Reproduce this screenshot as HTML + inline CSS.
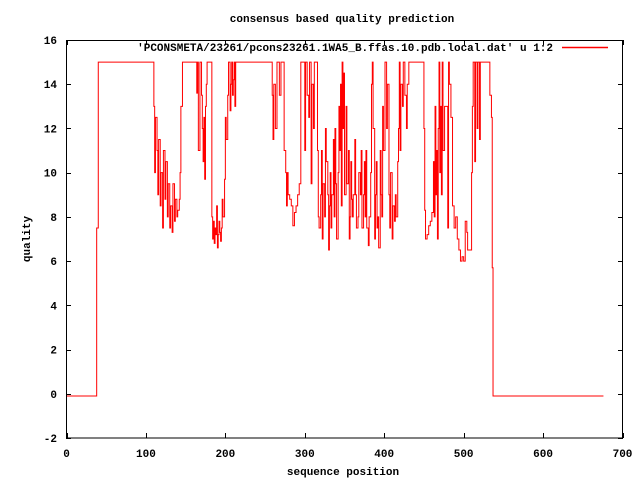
<!DOCTYPE html>
<html><head><meta charset="utf-8"><style>
body{margin:0;background:#fff}
svg text{font-family:"Liberation Mono",monospace;font-size:11px;font-weight:bold;fill:#000}
</style></head><body>
<svg id="chart" width="640" height="480" xmlns="http://www.w3.org/2000/svg">
<rect width="640" height="480" fill="#fff"/>
<text x="342" y="22" text-anchor="middle">consensus based quality prediction</text>
<text x="343" y="475" text-anchor="middle">sequence position</text>
<text x="30" y="239" text-anchor="middle" transform="rotate(-90 30 239)">quality</text>
<g id="ticks"></g>
<path id="series" fill="none" stroke="#f00" stroke-width="1"/>
<rect x="66.5" y="40.5" width="556" height="397.5" fill="none" stroke="#000" stroke-width="1"/>
<text x="553" y="51" text-anchor="end">'PCONSMETA/23261/pcons23261.1WA5_B.ffas.10.pdb.local.dat' u 1:2</text>
<line x1="562" y1="47.5" x2="608" y2="47.5" stroke="#ff0000" stroke-width="1.5"/>
</svg>
<script>
const xTicks=[0,100,200,300,400,500,600,700];
const yTicks=[-2,0,2,4,6,8,10,12,14,16];
const positions=[0,38,40,110,111,112,114,115,116,118,119,121,122,124,125,127,128,130,131,133,134,136,137,139,140,142,143,144,146,
164,165,166,168,170,171,172,173,174,175,176,177,183,184,185,186,187,188,189,190,191,192,193,194,195,196,197,199,200,201,203,204,206,207,208,209,210,211,212,213,215,
259,260,261,263,265,268,270,274,276,277,278,279,281,283,285,287,289,291,293,295,
300,301,303,305,306,308,309,311,312,316,317,318,320,321,322,323,325,326,327,329,330,331,332,333,334,336,337,338,339,340,342,343,344,345,346,347,348,349,350,352,353,355,356,357,358,359,360,361,363,364,365,367,368,370,371,372,374,375,376,377,378,380,381,383,384,385,386,388,389,390,391,392,393,395,396,397,398,399,401,403,404,406,407,408,410,411,413,414,415,417,418,419,420,421,423,424,426,428,429,431,
450,451,452,454,456,458,460,462,463,464,465,466,467,468,469,470,471,472,473,474,476,480,481,482,484,486,488,490,492,494,496,498,500,502,504,505,510,511,512,514,515,517,518,520,521,533,535,536,537,676];
const quality=[-0.1,7.5,15,13,10,12.5,11,9,11.5,8.5,10,7.5,11,8.8,10.5,8,9.5,7.5,8.5,7.3,9.5,7.8,8.8,8,8.3,8.8,10,13,15,
13.6,15,11,15,13.5,12,10.5,12.5,9.7,13,14,15,8,7,7.8,6.8,7.5,7.2,8.5,6.6,7.2,7.8,7.3,6.9,7.5,8.8,8,9.7,12.5,11.5,13.5,15,12.8,14,15,13.5,14.2,15,13,15,15,
13.5,11.5,14,12,15,13.5,15,11,10,8.5,10,9,8.8,8.5,7.6,8.2,8.5,9,9.5,15,
11,15,13.5,12.5,15,9.5,14,12,15,11,8,7.5,9,11,7,9.5,8,12,10.5,9,6.5,8.5,10,7.5,9,11.5,8,12,9.5,7,10,13,11,14,8.5,15,12,14.5,9,13,9.5,11,7,8,10.5,8.8,8,9,11.5,9,7.5,8,10,9,11,7.5,9,10.5,8,11,7.5,6.7,8,10,14,15,12,7,9,10.5,7.5,8,6.6,11,9,8,13,11,15,12,14,9,7.5,10,7,8.5,7.8,9,8,10.5,12,15,11,14,13,15,13.5,12,14,15,
12,8.3,7,7.2,7.6,7.8,8.2,10.5,8,13,9,11,7,12,15,10,13,9,15,11,13,7.5,15,14,12.5,8.5,7.5,8,7,6.5,6,6.2,6,7.8,7.3,6.5,10,13,15,10.5,15,12,15,11.5,15,13.5,12.5,5.7,-0.1,-0.1];
const X0=66.5,XW=556,Y0=438,YH=398,XMAX=700,YMIN=-2,YMAX=16;
function sx(v){return X0+v/XMAX*XW;}
function sy(v){return Y0-(v-YMIN)/(YMAX-YMIN)*YH;}
const NS='http://www.w3.org/2000/svg';
const tg=document.getElementById('ticks');
xTicks.forEach(t=>{
  const x=Math.round(sx(t))+0.5;
  const l=document.createElementNS(NS,'path');
  l.setAttribute('d',`M${x} 438V433M${x} 40V45`);l.setAttribute('stroke','#000');
  
  
  tg.appendChild(l);
  const tx=document.createElementNS(NS,'text');
  tx.setAttribute('x',sx(t));tx.setAttribute('y',457);tx.setAttribute('text-anchor','middle');tx.textContent=t;
  
  
  tg.appendChild(tx);
});
yTicks.forEach(t=>{
  const y=Math.round(sy(t))+0.5;
  const l=document.createElementNS(NS,'path');
  l.setAttribute('d',`M66 ${y}H71M623 ${y}H618`);l.setAttribute('stroke','#000');
  
  
  tg.appendChild(l);
  const tx=document.createElementNS(NS,'text');
  tx.setAttribute('x',57);tx.setAttribute('y',sy(t)+4);tx.setAttribute('text-anchor','end');tx.textContent=t;
  
  
  tg.appendChild(tx);
});
let d=`M${sx(positions[0])} ${sy(quality[0])}`;
for(let i=1;i<positions.length;i++){d+=`H${sx(positions[i])}V${sy(quality[i])}`;}
document.getElementById('series').setAttribute('d',d);
</script>
</body></html>
